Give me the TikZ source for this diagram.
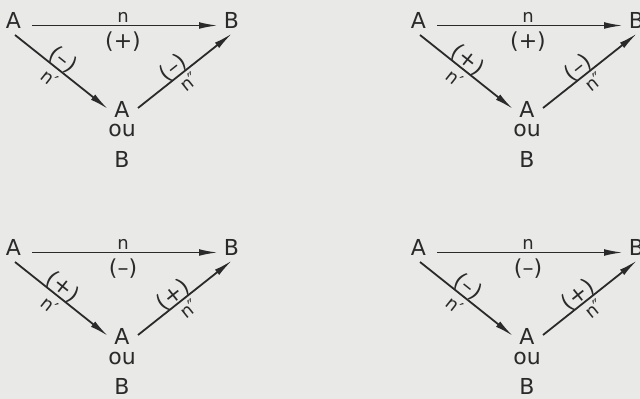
\documentclass[tikz,border=0pt]{standalone}
\usepackage{fontspec}
\setmainfont{DejaVu Sans}
\usetikzlibrary{arrows.meta}
\definecolor{bg}{HTML}{E9E9E7}
\definecolor{ink}{HTML}{2A2A2A}
\tikzset{
  lbl/.style={inner sep=0pt, text=ink, font=\fontsize{11}{13}\selectfont},
  sml/.style={inner sep=0pt, text=ink, font=\fontsize{9}{11}\selectfont},
  arr/.style={draw=ink, line width=0.9pt, -{Latex[length=9.5pt,width=3.4pt]}},
}
\newcommand\triad[6]{%
  \begin{scope}[shift={(#1,#2)}]
    \node[lbl] (A#6) at (13.5,20) {A};
    \node[lbl] (B#6) at (231.5,20.5) {B};
    \node[lbl] (M#6) at (122,109) {A};
    \node[lbl] (O#6) at (122,131) {ou};
    \node[lbl] (C#6) at (122,159) {B};
    \node[sml] (N#6) at (123,17) {n};
    \node[lbl] (S#6) at (123,41.5) {#3};
    \node[lbl, rotate=-38.5] (P#6) at (63,60) {#4};
    \node[sml, rotate=-38.5] (Q#6) at (50,78.5) {n′};
    \node[lbl, rotate=38.6] (R#6) at (173,68) {#5};
    \node[sml, rotate=38.6] (T#6) at (189,81.5) {n″};
    \draw[arr] ([shift={(18.5,5.5)}]A#6.center) -- ([shift={(-13.5,5)}]B#6.center);
    \draw[arr] ([shift={(1.5,15)}]A#6.center) -- ([shift={(-14,0)}]M#6.center);
    \draw[arr] ([shift={(16,-1)}]M#6.center) -- ([shift={(0.5,13)}]B#6.center);
  \end{scope}}
\begin{document}
\begin{tikzpicture}[x=0.5pt,y=-0.5pt]
  \useasboundingbox (0,0) rectangle (640,399);
  \fill[bg] (0,0) rectangle (640,399);
  \triad{0}{0}{(+)}{(–)}{(–)}{a}
  \triad{405}{0}{(+)}{(+)}{(–)}{b}
  \triad{0}{227}{(–)}{(+)}{(+)}{c}
  \triad{405}{227}{(–)}{(–)}{(+)}{d}
\end{tikzpicture}
\end{document}
